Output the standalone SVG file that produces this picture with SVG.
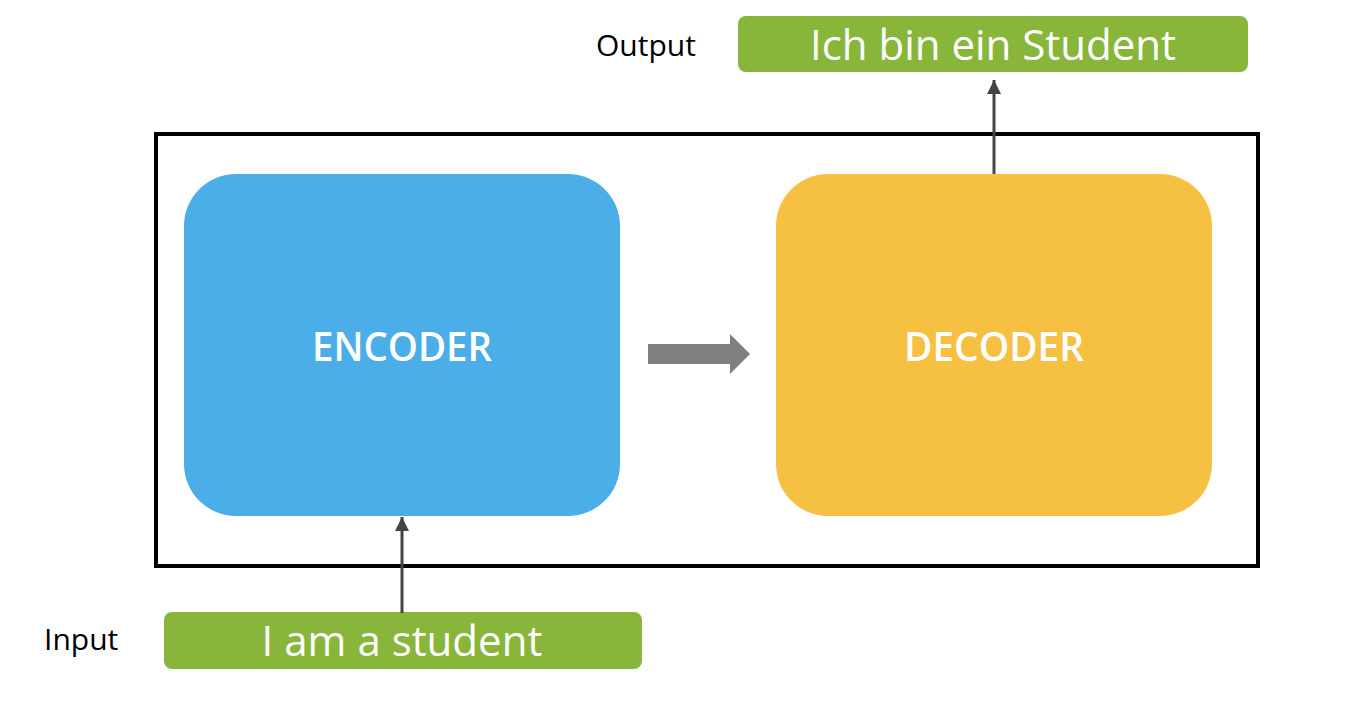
<svg xmlns="http://www.w3.org/2000/svg" width="1358" height="720" viewBox="0 0 1358 720">
<defs>
<style>
.lbl{font-family:"Open Sans","DejaVu Sans",sans-serif;fill:#000;font-size:30px}
.box{fill:#88B63A}
.boxt{font-family:"Open Sans","DejaVu Sans",sans-serif;fill:#fff;font-size:42px;text-anchor:middle}
.big{font-family:"Open Sans","DejaVu Sans",sans-serif;fill:#fff;font-size:40px;font-weight:600;text-anchor:middle}
.conn{stroke:#444;stroke-width:3;fill:none}
</style>
<marker id="ah" viewBox="0 0 10 10" refX="10" refY="5" markerWidth="14" markerHeight="14" markerUnits="userSpaceOnUse" orient="auto">
<path d="M0,0 L10,5 L0,10 z" fill="#444"/>
</marker>
</defs>
<rect width="1358" height="720" fill="#fff"/>
<g id="frame"><rect x="156" y="134" width="1102" height="432" fill="none" stroke="#000" stroke-width="4"/></g>
<g id="encoder"><rect x="184" y="174" width="436" height="342" rx="52" fill="#4BAEE8"/><text class="big" x="402" y="361" textLength="180" lengthAdjust="spacingAndGlyphs">ENCODER</text></g>
<g id="decoder"><rect x="776" y="174" width="436" height="342" rx="52" fill="#F6C142"/><text class="big" x="994" y="361" textLength="180" lengthAdjust="spacingAndGlyphs">DECODER</text></g>
<g id="output"><rect class="box" x="738" y="16" width="510" height="56" rx="8"/><text class="boxt" x="993" y="60">Ich bin ein Student</text></g>
<g id="output-label"><text class="lbl" x="596" y="56">Output</text></g>
<g id="input"><rect class="box" x="164" y="612" width="478" height="57" rx="8"/><text class="boxt" x="402" y="656">I am a student</text></g>
<g id="input-label"><text class="lbl" x="44" y="650">Input</text></g>
<g id="connectors">
<path class="conn" d="M402,613 V517" marker-end="url(#ah)"/>
<path class="conn" d="M994,174 V80" marker-end="url(#ah)"/>
<path d="M648,344 H730 V334 L750,354 L730,374 V364 H648 z" fill="#7F7F7F"/>
</g>
</svg>
